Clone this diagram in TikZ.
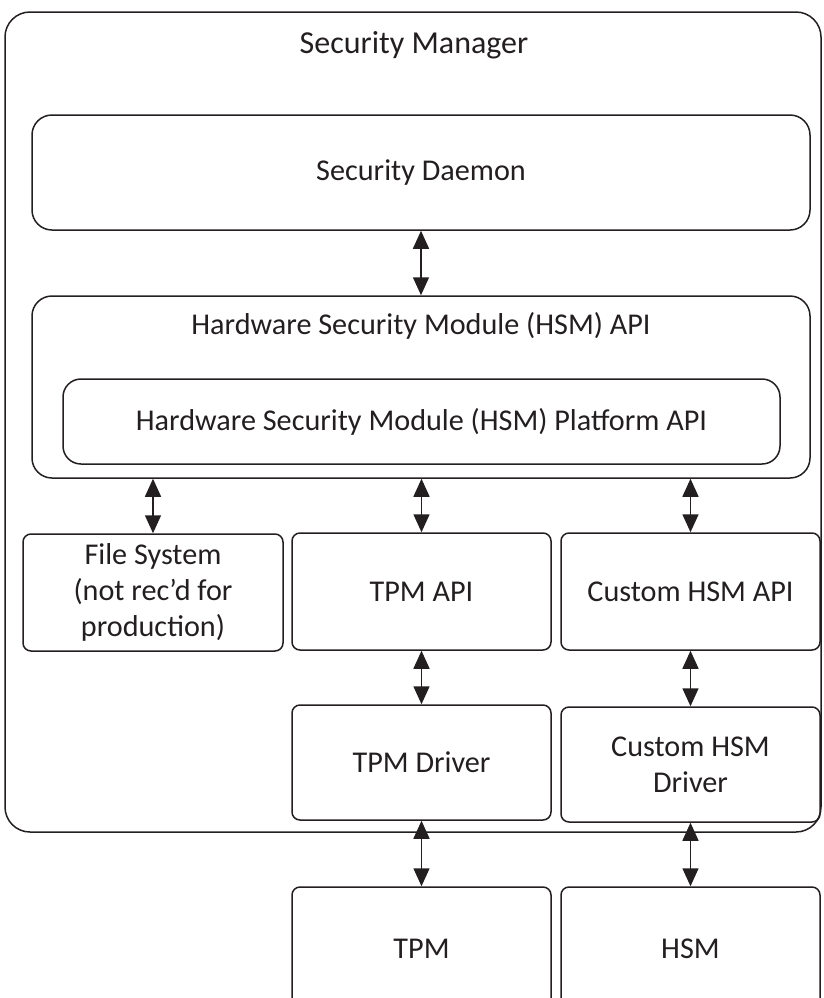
\documentclass[tikz,border=0pt]{standalone}
\usepackage{fontspec}
\setmainfont{Carlito}
\usepackage{tikz}
\usetikzlibrary{arrows.meta,positioning,calc}
\definecolor{SecInk}{HTML}{231F20}

\begin{document}
\begin{tikzpicture}[x=0.5pt,y=-0.5pt,
  every node/.style={align=center, text=SecInk, font=\fontsize{15.1}{18.2}\selectfont},
  box/.style={draw=SecInk, line width=0.75pt, rounded corners=4pt, inner sep=0pt},
  bigbox/.style={box, rounded corners=10pt},
  dbl/.style={draw=SecInk, line width=0.75pt, {Triangle[width=8pt,length=9pt]}-{Triangle[width=8pt,length=9pt]}}]
  \clip (0,0) rectangle (824,998);
  % security manager frame
  \node[bigbox, rounded corners=12.5pt, minimum width=408pt, minimum height=410pt] (mgr) at (413,422) {};
  \node[font=\fontsize{16}{19}\selectfont] (mgrlbl) at (414,45) {Security Manager};
  \node[bigbox, minimum width=389pt, minimum height=57.5pt] (daemon) at (421,172.5) {Security Daemon};
  \node[bigbox, minimum width=389pt, minimum height=91pt] (hsmapi) at (421,387) {};
  \node (hsmlbl) at (421,326) {Hardware Security Module (HSM) API};
  \node[bigbox, rounded corners=9pt, minimum width=358.5pt, minimum height=42.5pt] (platform) at (421.5,421.5)
    {Hardware Security Module (HSM) Platform API};
  % middle row
  \node[box, minimum width=130pt, minimum height=58.5pt] (filesys) at (153,592.5)
    {File System\\(not rec'd for\\production)};
  \node[box, minimum width=129.5pt, minimum height=58.5pt] (tpmapi) at (421.5,591.5) {TPM API};
  \node[box, minimum width=129.5pt, minimum height=58.5pt] (customapi) at (690.5,591.5) {Custom HSM API};
  % drivers
  \node[box, minimum width=129.5pt, minimum height=57.5pt] (tpmdrv) at (421.5,762.5) {TPM Driver};
  \node[box, minimum width=129.5pt, minimum height=57.5pt] (customdrv) at (690.5,764.5) {Custom HSM\\Driver};
  % hardware, cut off at the bottom
  \node[box, minimum width=129.5pt, minimum height=62pt] (tpm) at (421.5,949) {TPM};
  \node[box, minimum width=129.5pt, minimum height=62pt] (hsm) at (690.5,949) {HSM};
  \draw[dbl] (daemon.south) -- (hsmapi.north);
  \draw[dbl] (filesys.north |- hsmapi.south) -- (filesys.north);
  \draw[dbl] (tpmapi.north |- hsmapi.south) -- (tpmapi.north);
  \draw[dbl] (customapi.north |- hsmapi.south) -- (customapi.north);
  \draw[dbl] (tpmapi.south) -- (tpmdrv.north);
  \draw[dbl] (customapi.south) -- (customdrv.north);
  \draw[dbl] (tpmdrv.south) -- (tpm.north);
  \draw[dbl] (customdrv.south) -- (hsm.north);
\end{tikzpicture}
\end{document}
